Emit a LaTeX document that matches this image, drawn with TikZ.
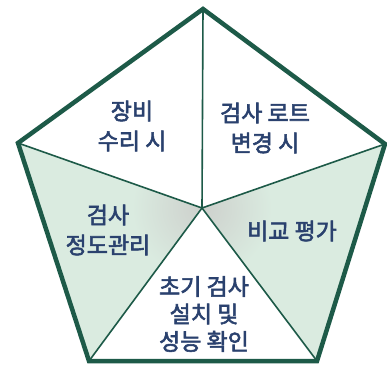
\documentclass[tikz,border=0pt]{standalone}
\usepackage{fontspec}
\newfontfamily\krfont[FakeBold=2.5]{Noto Sans CJK KR}
\usetikzlibrary{positioning}
\definecolor{rimgreen}{HTML}{1D5A48}
\definecolor{sectorgreen}{HTML}{DAEBE0}
\definecolor{shadegray}{HTML}{CDD0CC}
\definecolor{txtblue}{HTML}{2A416E}

\begin{document}
\begin{tikzpicture}[x=1pt, y=-1pt,
    font=\krfont\fontsize{23}{30}\selectfont,
    rim/.style={draw=rimgreen, line width=4.5pt, line join=miter},
    spoke/.style={draw=rimgreen, line width=1.6pt},
    sector/.style={fill=sectorgreen},
    lbl/.style={align=center, text=txtblue, inner sep=0pt}]
  \useasboundingbox[fill=white] (0,0) rectangle (387,367);
  % corners and centre
  \coordinate (T)  at (203,9);
  \coordinate (L)  at (18,143);
  \coordinate (R)  at (385,144);
  \coordinate (BL) at (89,361);
  \coordinate (BR) at (317,361);
  \coordinate (O)  at (202,208);
  % shaded sectors
  \fill[sector] (O) -- (L) -- (BL) -- cycle;
  \fill[sector] (O) -- (R) -- (BR) -- cycle;
  \begin{scope}
    \clip (O) -- (L) -- (BL) -- cycle (O) -- (R) -- (BR) -- cycle;
    \shade[inner color=shadegray, outer color=sectorgreen] (O) circle (70pt);
  \end{scope}
  \foreach \c in {T,L,R,BL,BR}
    \draw[spoke] (O) -- (\c);
  \draw[rim] (T) -- (R) -- (BR) -- (BL) -- (L) -- cycle;
  % labels
  \node[lbl] (repair) at (132,126) {장비\\수리 시};
  \node[lbl] (lot)    at (265,128) {검사 로트\\변경 시};
  \node[lbl] (acc)    at (108,230) {검사\\정도관리};
  \node[lbl] (comp)   at (292,231) {비교 평가};
  \node[lbl, font=\krfont\fontsize{23}{27.5}\selectfont] (init) at (204,314) {초기 검사\\설치 및\\성능 확인};
\end{tikzpicture}
\end{document}
